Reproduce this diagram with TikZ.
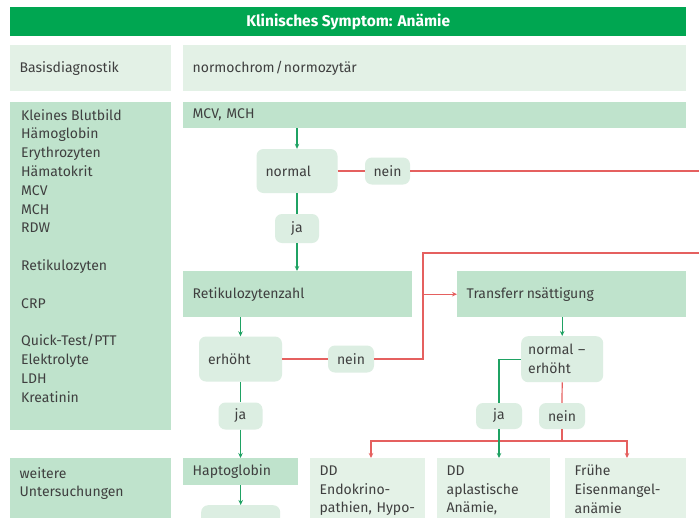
\documentclass[tikz,border=0pt]{standalone}
\usepackage{fontspec}
\setmainfont{Fira Sans}
\usetikzlibrary{arrows.meta}
\definecolor{titlegreen}{HTML}{00A651}
\definecolor{midgreen}{HTML}{BFE3CC}
\definecolor{litegreen}{HTML}{E3F1E6}
\definecolor{decgreen}{HTML}{DCEEE2}
\definecolor{ddgreen}{HTML}{E4F2E7}
\definecolor{linered}{HTML}{E5605F}
\definecolor{linegreen}{HTML}{1FA263}
\definecolor{txtgray}{HTML}{3F3F3F}
\newcommand{\fst}{\rule{0pt}{10pt}}
\tikzset{
  cell/.style={anchor=north west, inner xsep=9.5pt, inner ysep=0pt, align=left},
  dec/.style={fill=decgreen, rounded corners=7pt, inner xsep=0pt, inner ysep=0pt, align=center},
  rline/.style={color=linered, line width=1.2pt},
  gline/.style={color=linegreen, line width=1.2pt},
  rarrow/.style={rline, -{Stealth[length=5pt,width=4.5pt]}},
  garrow/.style={gline, -{Stealth[length=5pt,width=4.5pt]}},
}
\begin{document}
\begin{tikzpicture}[x=1pt,y=-1pt, font=\fontsize{14}{18.8}\selectfont, text=txtgray]
\useasboundingbox (0,0) rectangle (699,517);
\clip (0,0) rectangle (699,517);
\fill[white] (0,0) rectangle (699,517);

% title
\node[fill=titlegreen, anchor=north west, minimum width=676pt, minimum height=29pt, inner sep=0pt,
      text=white, font=\bfseries\fontsize{15.5}{17}\selectfont] (title) at (10,7) {Klinisches Symptom: Anämie};

% row 1
\node[cell, fill=litegreen, text width=142pt, minimum height=46pt] (basisL) at (10,45) {Basisdiagnostik};
\node[cell, fill=litegreen, text width=484pt, minimum height=46pt] (basisR) at (183,45) {normochrom\kern1pt/\kern1pt normozytär};

% row 2 left
\node[anchor=north west, fill=midgreen, minimum width=161pt, minimum height=328pt, inner sep=0pt] (lab) at (10,102) {};
\node[anchor=north west, inner sep=0pt, align=left] (labtxt) at (21,109) 
  {\fst Kleines Blutbild\\Hämoglobin\\Erythrozyten\\Hämatokrit\\MCV\\MCH\\RDW\\[18.8pt]Retikulozyten\\[18.8pt]CRP\\[18.8pt]Quick-Test/PTT\\Elektrolyte\\LDH\\Kreatinin};

% flow
\node[cell, fill=midgreen, text width=484pt, minimum height=26pt] (mcv) at (183,102) {MCV, MCH};
\node[dec, minimum width=81pt, minimum height=44pt, text width=63pt, align=left] (normal) at (297,171) {normal};
\node[dec, minimum width=45pt, minimum height=27pt] (nein1) at (387.5,171) {nein};
\node[dec, minimum width=44pt, minimum height=29pt] (ja1) at (297,228.5) {ja};
\coordinate (rightA) at (699,171);

\node[cell, fill=midgreen, text width=210pt, minimum height=46pt] (ret) at (183,271) {Retikulozytenzahl};
\node[cell, fill=midgreen, text width=210pt, minimum height=46pt] (tsat) at (457,271) {Transferr\hspace{3pt}nsättigung};

\node[dec, minimum width=83pt, minimum height=45pt, text width=65pt, align=left] (erh) at (240.5,359) {erhöht};
\node[dec, minimum width=46pt, minimum height=27pt] (nein2) at (351,359) {nein};
\node[dec, minimum width=44pt, minimum height=27pt] (ja3) at (240.5,416) {ja};
\coordinate (kx) at (423,253);
\coordinate (rightB) at (699,253);

\node[dec, anchor=north west, minimum width=82pt, minimum height=46pt, text width=68pt, align=left] (ne) at (521,336) {normal –\\erhöht};
\node[dec, minimum width=46pt, minimum height=26pt] (ja2) at (499,416) {ja};
\node[dec, minimum width=46pt, minimum height=26pt] (nein3) at (562,416) {nein};
\coordinate (split) at (562,441);
\coordinate (bl) at (371,441);
\coordinate (br) at (627,441);

% row 3
\node[cell, fill=midgreen, text width=142pt, inner ysep=9pt] (weit) at (10,458) {\fst weitere\\Untersuchungen\\[30pt]\mbox{}};
\node[cell, fill=midgreen, text width=96pt, minimum height=27pt] (hapt) at (183,458) {Haptoglobin};
\node[dec, anchor=north west, minimum width=79pt, minimum height=45pt] (hapt2) at (201,505) {};
\node[cell, fill=ddgreen, text width=96pt, inner ysep=7pt] (dd1) at (310,458) {\fst DD\\Endokrino-\\pathien, Hypo-\\[20pt]\mbox{}};
\node[cell, fill=ddgreen, text width=94pt, inner ysep=7pt] (dd2) at (437,458) {\fst DD\\aplastische\\Anämie,\\[20pt]\mbox{}};
\node[cell, fill=ddgreen, text width=102pt, inner ysep=7pt] (dd3) at (565,458) {\fst Frühe\\Eisenmangel-\\anämie\\[20pt]\mbox{}};

% connectors
\draw[garrow] (mcv.south -| normal.north) -- (normal.north);
\draw[rline] (normal.east) -- (nein1.west);
\draw[rline] (nein1.east) -- (rightA);
\draw[gline] (normal.south) -- (ja1.north);
\draw[garrow] (ja1.south) -- (ret.north -| ja1.south);

\draw[garrow] (ret.south -| erh.north) -- (erh.north);
\draw[rline] (erh.east) -- (nein2.west);
\draw[rline] (nein2.east) -| (kx) -- (rightB);
\draw[rarrow] (kx |- tsat.west) -- (tsat.west);
\draw[gline] (erh.south) -- (ja3.north);
\draw[garrow] (ja3.south) -- (hapt.north -| ja3.south);
\draw[garrow] (hapt.south -| hapt2.north) -- (hapt2.north);

\draw[garrow] (tsat.south -| ne.north) -- (ne.north);
\draw[rline] (ne.south) -- (nein3.north);
\draw[rline] (nein3.south) -- (split);
\draw[rarrow] (split) -| (bl |- dd1.north);
\draw[rarrow] (split) -| (br |- dd3.north);
\draw[gline] (ne.west) -| (ja2.north);
\draw[garrow] (ja2.south) -- (ja2.south |- dd2.north);
\end{tikzpicture}
\end{document}
